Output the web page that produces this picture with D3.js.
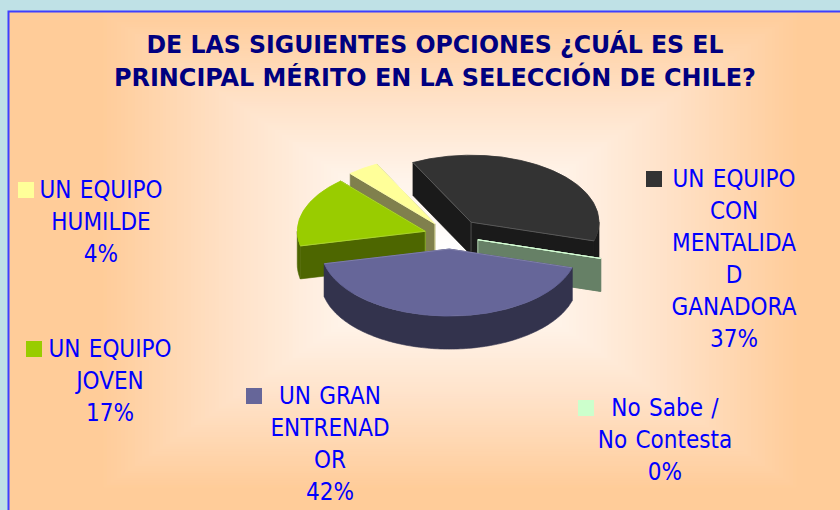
<!DOCTYPE html>
<html>
<head>
<meta charset="utf-8">
<script src="https://cdn.jsdelivr.net/npm/d3@7"></script>
<style>
  html, body { margin: 0; padding: 0; background: #bfe1e6; overflow: hidden; }
  svg { display: block; }
  text { font-family: 'DejaVu Sans', sans-serif; font-stretch: condensed; }
</style>
</head>
<body>
<svg id="chart" width="840" height="510"></svg>
<script>
const titleLines = ['DE LAS SIGUIENTES OPCIONES ¿CUÁL ES EL', 'PRINCIPAL MÉRITO EN LA SELECCIÓN DE CHILE?'];
const categories = ['UN EQUIPO CON MENTALIDAD GANADORA', 'No Sabe / No Contesta', 'UN GRAN ENTRENADOR', 'UN EQUIPO JOVEN', 'UN EQUIPO HUMILDE'];
const values = [37, 0, 42, 17, 4];
const colors = ['#333333', '#ccffcc', '#666699', '#99cc00', '#ffff99'];
// the legend wraps the way the original does, mid word included
const labelLines = [
  ['UN EQUIPO', 'CON', 'MENTALIDA', 'D', 'GANADORA'],
  ['No Sabe /', 'No Contesta'],
  ['UN GRAN', 'ENTRENAD', 'OR'],
  ['UN EQUIPO', 'JOVEN'],
  ['UN EQUIPO', 'HUMILDE']
];

const WIDTH = 840, HEIGHT = 510;
const PIE = { cx: 450, cy: 235.5, rx: 128, ry: 67, depth: 33 };
const EXPLODE = [33, 29, 26, 26, 27];
const DRAW_ORDER = [4, 3, 0, 1, 2];
const LEGEND = [
  { sx: 646, sy: 171, cx: 734, y: 187 },
  { sx: 578, sy: 400, cx: 665, y: 416 },
  { sx: 246, sy: 388, cx: 330, y: 404 },
  { sx: 26, sy: 341, cx: 110, y: 357 },
  { sx: 18, sy: 182, cx: 101, y: 198 }
];
const LINE_HEIGHT = 32;

let svg = d3.select('#chart');

// panel: rectangular "from centre" gradient, nested rects
let panel = svg.append('g');
let shade = d3.scaleLinear().domain([0, 0.3, 0.6, 1]).range(['#ffffff', '#fff4ea', '#ffe3cb', '#ffcc99']);
let steps = d3.range(1, 0, -0.01);
let clipId = 'panel-clip';
svg.append('clipPath').attr('id', clipId).append('rect')
  .attr('x', 8).attr('y', 11).attr('width', WIDTH - 8).attr('height', HEIGHT - 11);
panel.attr('clip-path', `url(#${clipId})`);
panel.append('rect').attr('x', 0).attr('y', 0).attr('width', WIDTH).attr('height', HEIGHT).attr('fill', '#ffcc99');
panel.selectAll('rect.band')
  .data(steps)
  .join('rect')
  .attr('class', 'band')
  .attr('x', (t) => 450 - t * 350)
  .attr('width', (t) => t * 700)
  .attr('y', (t) => 250 - t * 240)
  .attr('height', (t) => t * 480)
  .attr('fill', (t) => shade(t));

svg.append('path')
  .attr('d', `M8.5,${HEIGHT}V11.5H${WIDTH}`)
  .attr('fill', 'none')
  .attr('stroke', '#3f3fff')
  .attr('stroke-width', 2);

// title
svg.append('g')
  .selectAll('text')
  .data(titleLines)
  .join('text')
  .attr('x', 435)
  .attr('y', (d, i) => 52.5 + i * 33)
  .attr('text-anchor', 'middle')
  .attr('font-size', 25)
  .attr('font-weight', 700)
  .attr('fill', '#000080')
  .attr('textLength', (d, i) => [577, 642][i])
  .attr('lengthAdjust', 'spacingAndGlyphs')
  .text((d) => d);

// pie
let slices = d3.pie().sort(null).startAngle(-27 * Math.PI / 180).endAngle(333 * Math.PI / 180)(values);
let k = PIE.ry / PIE.rx;
let arc = d3.arc().innerRadius(0).outerRadius(PIE.rx);
let line = d3.line();

// angle is clockwise from 12 o'clock, same as d3.pie
let apex = (s, i) => {
  let mid = (s.startAngle + s.endAngle) / 2;
  return [PIE.cx + EXPLODE[i] * Math.sin(mid), PIE.cy - EXPLODE[i] * k * Math.cos(mid)];
};
let rim = (a, angle) => [a[0] + PIE.rx * Math.sin(angle), a[1] - PIE.ry * Math.cos(angle)];
let down = (p) => [p[0], p[1] + PIE.depth];

let pieG = svg.append('g');

DRAW_ORDER.forEach((i) => {
  let s = slices[i];
  let a = apex(s, i);
  let wallColor = d3.interpolateRgb(colors[i], '#000')(0.5);
  let edge = d3.interpolateRgb(colors[i], '#fff')(0.3);
  let g = pieG.append('g');

  // radial walls, far one first
  [s.endAngle, s.startAngle].forEach((angle) => {
    let p = rim(a, angle);
    g.append('path')
      .attr('d', line([a, p, down(p), down(a)]) + 'Z')
      .attr('fill', wallColor)
      .attr('stroke', wallColor)
      .attr('stroke-width', 0.6);
  });

  // outer wall, only the part that faces the viewer
  let from = Math.max(s.startAngle, Math.PI / 2);
  let to = Math.min(s.endAngle, 3 * Math.PI / 2);
  if (to > from) {
    let rimPts = d3.range(from, to, 0.02).concat([to]).map((angle) => rim(a, angle));
    g.append('path')
      .attr('d', line(rimPts.concat(rimPts.slice().reverse().map(down))) + 'Z')
      .attr('fill', wallColor)
      .attr('stroke', wallColor)
      .attr('stroke-width', 0.6);
  }

  // vertical edge at the apex, goes under the top face
  g.append('path')
    .attr('d', line([a, down(a)]))
    .attr('fill', 'none')
    .attr('stroke', edge)
    .attr('stroke-width', 0.6);

  g.append('path')
    .attr('d', arc(s))
    .attr('transform', `translate(${a[0]},${a[1]}) scale(1,${k})`)
    .attr('fill', colors[i])
    .attr('stroke', colors[i])
    .attr('stroke-width', 0.8)
    .attr('vector-effect', 'non-scaling-stroke');

  // thin light lines along the cut edges
  g.append('path')
    .attr('d', line([rim(a, s.startAngle), a, rim(a, s.endAngle)]))
    .attr('fill', 'none')
    .attr('stroke', edge)
    .attr('stroke-width', 0.6);
});

// legend
let legend = svg.append('g')
  .selectAll('g')
  .data(categories)
  .join('g');

legend.append('rect')
  .attr('x', (d, i) => LEGEND[i].sx)
  .attr('y', (d, i) => LEGEND[i].sy)
  .attr('width', 16)
  .attr('height', 16)
  .attr('fill', (d, i) => colors[i]);

legend.selectAll('text')
  .data((d, i) => labelLines[i].concat(values[i] + '%').map((t) => ({ t, i })))
  .join('text')
  .attr('x', (d) => LEGEND[d.i].cx)
  .attr('y', (d, j) => LEGEND[d.i].y + j * LINE_HEIGHT)
  .attr('text-anchor', 'middle')
  .attr('font-size', 24)
  .attr('word-spacing', 1.5)
  .attr('fill', '#0000ff')
  .text((d) => d.t);
</script>
</body>
</html>
